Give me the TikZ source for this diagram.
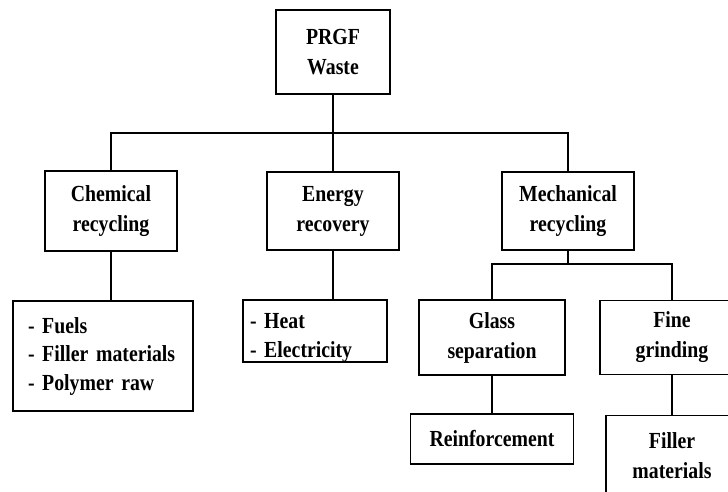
\documentclass[tikz,border=0pt]{standalone}
\usepackage{fontspec}
\setmainfont{Liberation Serif}[FakeStretch=0.86, WordSpace=0.8]
\usetikzlibrary{positioning}

\begin{document}
\begin{tikzpicture}[x=1pt, y=1pt, on grid, line width=1.5pt,
	box/.style = {rectangle, draw, line width=1.5pt, inner sep=0pt, align=center, minimum width=132pt, minimum height=78pt, font=\bfseries\fontsize{23}{30}\selectfont},
	list/.style = {box, align=left, font=\bfseries\fontsize{23}{28.5}\selectfont}]
	\useasboundingbox (0,0) rectangle (728,-491);
	\clip (0,0) rectangle (728,-491);
	\node[box, minimum width=114pt, minimum height=84pt] (waste) at (333,-52) {PRGF\\Waste};
	\node[box, minimum height=80pt] (chem) [below left = 159pt and 222pt of waste] {Chemical\\recycling};
	\node[box] (energy) [below = 159pt of waste] {Energy\\recovery};
	\node[box] (mech) [below right = 159pt and 235pt of waste] {Mechanical\\recycling};
	\node[list, minimum width=180pt, minimum height=110pt, text width=150pt] (chemout) [below left = 145pt and 8pt of chem] {- Fuels\\- Filler materials\\- Polymer raw};
	\node[list, minimum width=144pt, minimum height=62pt, text width=130pt, text height=29pt] (heat) [below left = 120pt and 18pt of energy] {- Heat\\- Electricity};
	\node[box, minimum width=146pt, minimum height=75pt] (glass) [below left = 126.5pt and 76pt of mech] {Glass\\separation};
	\node[box, minimum width=144pt, minimum height=74pt] (fine) [below right = 126.5pt and 104pt of mech] {Fine\\grinding};
	\node[box, minimum width=163pt, minimum height=50pt] (reinf) [below = 101.5pt of glass] {Reinforcement};
	\node[box, minimum height=80pt] (filler) [below = 118pt of fine] {Filler\\materials};
	\draw (waste.south) -- ++(0,-38) coordinate (j1);
	\draw (j1) -| (chem.north);
	\draw (j1) -| (mech.north);
	\draw (j1) -- (energy.north);
	\draw (chem.south) -- (chem.south |- chemout.north);
	\draw (energy.south) -- (energy.south |- heat.north);
	\draw (mech.south) -- ++(0,-13) coordinate (j2);
	\draw (j2) -| (glass.north);
	\draw (j2) -| (fine.north);
	\draw (glass.south) -- (reinf.north);
	\draw (fine.south) -- (filler.north);
\end{tikzpicture}
\end{document}
